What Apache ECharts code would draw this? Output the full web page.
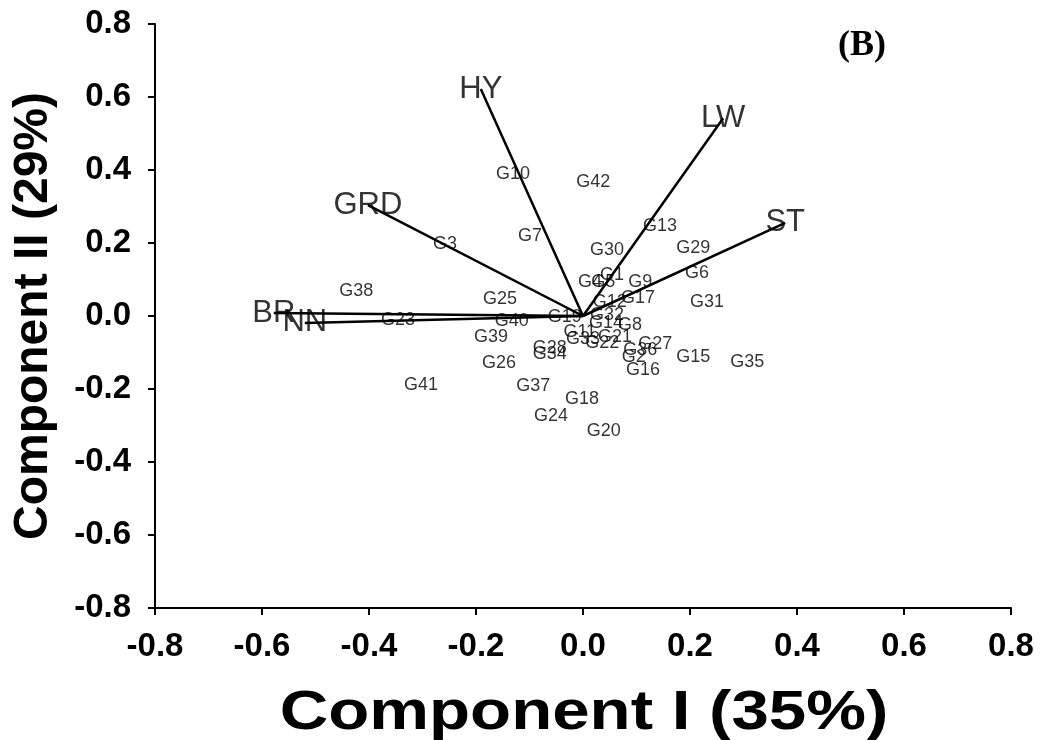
<!DOCTYPE html>
<html>
<head>
<meta charset="utf-8">
<script src="https://cdn.jsdelivr.net/npm/echarts@6/dist/echarts.min.js"></script>
<style>
  html, body { margin: 0; padding: 0; background: #fff; }
  #chart { width: 1043px; height: 740px; }
</style>
</head>
<body>
<div id="chart"></div>
<script>
// Genotype scores on the first two principal components
const genotypes = ['G1','G2','G3','G4','G5','G6','G7','G8','G9','G10',
  'G11','G12','G13','G14','G15','G16','G17','G18','G19','G20',
  'G21','G22','G23','G24','G25','G26','G27','G28','G29','G30',
  'G31','G32','G33','G34','G35','G36','G37','G38','G39','G40','G41','G42'];
const scoreX = [0.054, 0.095, -0.258, 0.013, 0.038, 0.213, -0.099, 0.088, 0.107, -0.131,
  -0.006, 0.050, 0.144, 0.043, 0.206, 0.112, 0.103, -0.002, -0.034, 0.039,
  0.060, 0.036, -0.346, -0.060, -0.155, -0.157, 0.135, -0.062, 0.206, 0.045,
  0.232, 0.045, 0.000, -0.062, 0.307, 0.107, -0.093, -0.424, -0.172, -0.133, -0.303, 0.019];
const scoreY = [0.112, -0.112, 0.197, 0.093, 0.093, 0.118, 0.219, -0.025, 0.093, 0.389,
  -0.044, 0.038, 0.247, -0.019, -0.112, -0.148, 0.049, -0.227, -0.003, -0.315,
  -0.058, -0.074, -0.011, -0.274, 0.047, -0.129, -0.077, -0.088, 0.186, 0.181,
  0.038, 0.003, -0.063, -0.104, -0.126, -0.093, -0.192, 0.068, -0.058, -0.014, -0.189, 0.367];

// Trait loadings (vector end points)
const traits = ['HY', 'LW', 'ST', 'GRD', 'BR', 'NN'];
const loadX = [-0.191, 0.262, 0.378, -0.402, -0.578, -0.520];
const loadY = [0.622, 0.542, 0.255, 0.304, 0.008, -0.019];

const axisTicks = [-0.8, -0.6, -0.4, -0.2, 0.0, 0.2, 0.4, 0.6, 0.8];
const xTitle = 'Component I (35%)';
const yTitle = 'Component II (29%)';

const FONT = 'Liberation Sans, Arial, sans-serif';
const chart = echarts.init(document.getElementById('chart'));

const vectorSeries = traits.map((t, i) => ({
  type: 'line',
  name: t,
  data: [[0, 0], [loadX[i], loadY[i]]],
  showSymbol: false,
  symbol: 'none',
  lineStyle: { color: '#000', width: 2.5 },
  silent: true,
  z: 3
}));

const tickText = v => axisTicks.reduce((a, b) => Math.abs(b - v) < Math.abs(a - v) ? b : a).toFixed(1);

chart.setOption({
  animation: false,
  backgroundColor: '#fff',
  grid: { left: 155, right: 32, top: 24, bottom: 132, outerBoundsMode: 'none', containLabel: false },
  xAxis: {
    type: 'value', min: -0.8, max: 0.8, interval: 0.2,
    axisLine: { onZero: false, lineStyle: { color: '#000', width: 2 } },
    axisTick: { inside: false, length: 7, lineStyle: { color: '#000', width: 2 } },
    axisLabel: { fontFamily: FONT, fontWeight: 'bold', fontSize: 33, color: '#000', margin: 22,
      formatter: tickText },
    splitLine: { show: false }
  },
  yAxis: {
    type: 'value', min: -0.8, max: 0.8, interval: 0.2,
    name: yTitle, nameLocation: 'middle', nameGap: 97, nameRotate: 90,
    nameTextStyle: { fontFamily: FONT, fontWeight: 'bold', fontSize: 48, color: '#000' },
    axisLine: { onZero: false, lineStyle: { color: '#000', width: 2 } },
    axisTick: { inside: false, length: 7, lineStyle: { color: '#000', width: 2 } },
    axisLabel: { fontFamily: FONT, fontWeight: 'bold', fontSize: 33, color: '#000', margin: 24,
      formatter: tickText },
    splitLine: { show: false }
  },
  series: [
    ...vectorSeries,
    {
      type: 'scatter',
      name: 'traits',
      symbolSize: 0,
      data: traits.map((t, i) => ({ name: t, value: [loadX[i], loadY[i]] })),
      label: { show: true, position: 'inside', formatter: p => p.name,
        fontFamily: FONT, fontSize: 31, color: '#000' },
      z: 4
    },
    {
      type: 'scatter',
      name: 'genotypes',
      symbolSize: 0,
      data: genotypes.map((g, i) => ({ name: g, value: [scoreX[i], scoreY[i]] })),
      label: { show: true, position: 'inside', formatter: p => p.name,
        fontFamily: FONT, fontSize: 18, color: '#000' },
      z: 5
    }
  ],
  graphic: [
    {
      // horizontal axis title, set a little wide
      type: 'text', x: 584, y: 714, scaleX: 1.2,
      style: { text: xTitle, fontFamily: FONT, fontWeight: 'bold', fontSize: 56,
        fill: '#000', align: 'center', verticalAlign: 'middle' }
    },
    {
      type: 'text', left: 838, top: 28,
      style: { text: '(B)', fontFamily: 'Liberation Serif, Times New Roman, serif',
        fontWeight: 'bold', fontSize: 36, fill: '#000' }
    }
  ]
});
</script>
</body>
</html>
